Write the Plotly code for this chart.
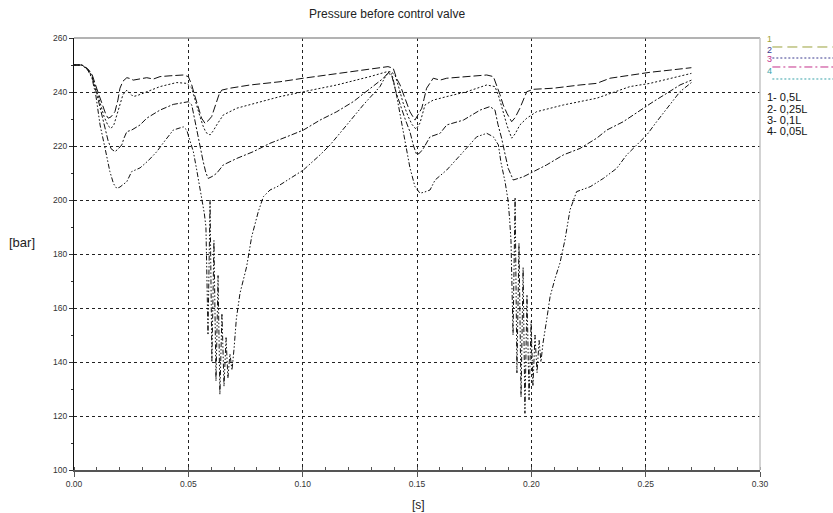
import plotly.graph_objects as go

# Time in milliseconds, pressure in bar, for each accumulator volume
t_05 = [0, 3.5, 6.1, 7.9, 9.9, 11.4, 12.8, 14.0, 15.0, 16.2, 17.9, 19.2, 20.1, 21.4, 23.1,
        24.5, 25.9, 28.9, 31.8, 34.7, 37.6, 42.0, 47.8, 50.0, 51.5, 52.5, 53.7, 54.7, 55.8,
        57.3, 58.6, 60.2, 61.2, 62.4, 63.4, 64.6, 68.2, 77.0, 90.1, 100.3, 114.9, 129.4,
        135.3, 137.3, 139.6, 141.1, 142.6, 144.8, 146.9, 149.1, 150.4, 152.1, 153.1, 154.2,
        157.1, 160.1, 163.0, 170.3, 180.5, 183.4, 184.9, 186.3, 187.7, 189.4, 191.4, 192.9,
        195.0, 196.4, 198.0, 200.9, 209.6, 221.3, 228.6, 234.4, 243.1, 251.9, 260.6, 270.0]
p_05 = [250, 250, 248.5, 246.5, 241.4, 237.5, 234, 231.5, 230.3, 230.8, 232.7, 237, 241.4,
        244, 245.3, 245, 244.4, 244.8, 245.3, 244.8, 245.7, 246, 246.3, 245.7, 242.6, 239.5,
        236.4, 233, 230.3, 228.4, 229.3, 230.9, 233.5, 236.4, 239, 240.7, 241.4, 242.6, 243.8,
        245.1, 246.9, 248.5, 249.4, 249.4, 248.8, 245, 242.6, 237.5, 232.7, 229.6, 231.5, 234,
        237.5, 241.4, 245.1, 244.4, 245.1, 245.7, 246.3, 245.7, 242.6, 239, 235.2, 232, 229,
        230.5, 234, 237, 240.1, 241, 241.4, 242.6, 243.2, 245.1, 246.3, 247.3, 248.1, 249]

t_025 = [0, 3.5, 6.1, 7.9, 9.9, 11.4, 13.1, 14.9, 16.2, 17.5, 18.8, 20.1, 21.4, 23.1, 24.5,
         25.9, 28.0, 30.3, 33.2, 37.6, 44.9, 49.3, 51.5, 52.9, 54.7, 56.4, 57.7, 59.5, 60.8,
         62.4, 63.9, 65.3, 71.2, 81.3, 90.1, 100.3, 114.9, 129.4, 136.8, 138.6, 140.4, 142.1,
         143.9, 146.1, 147.8, 149.6, 151.3, 153.5, 157.1, 163.0, 171.7, 180.5, 184.1, 185.9,
         187.7, 189.4, 191.4, 192.9, 195.0, 198.0, 202.3, 214.0, 228.6, 234.4, 243.1, 251.9,
         260.6, 270.0]
p_025 = [250, 250, 248.5, 246, 240.5, 236, 231, 227.5, 226.5, 228, 232, 236, 239, 240.7,
         239.5, 238.3, 238.8, 239.5, 240.5, 242, 243.5, 243.2, 241.4, 237, 232, 227.5, 225,
         224.1, 225.5, 227.8, 230, 231.5, 234, 236.4, 238.3, 240.1, 242.6, 245.7, 247.5, 247.5,
         246.3, 241.5, 236, 231, 228, 226.2, 228.5, 235.2, 237, 238.3, 240.1, 242.6, 242, 238,
         232.7, 227.5, 222.9, 224.5, 227.8, 230.3, 232.7, 235.2, 237.7, 239.5, 242, 243.2,
         245.1, 246.9]

t_01 = [0, 3.5, 6.1, 7.9, 9.9, 11.4, 13.1, 14.9, 16.2, 17.9, 19.2, 20.9, 21.9, 23.1, 25.2,
        28.9, 31.8, 37.6, 43.4, 50.0, 51.5, 52.5, 53.7, 55.1, 56.5, 57.7, 58.7, 60.4, 62.4,
        65.3, 71.2, 78.4, 85.7, 93.0, 100.3, 107.6, 114.9, 122.1, 129.4, 135.3, 137.3, 138.9,
        140.8, 142.6, 144.8, 146.9, 148.5, 149.9, 151.3, 152.8, 154.4, 155.7, 160.1, 163.0,
        170.3, 177.6, 181.9, 184.1, 185.4, 187.0, 188.5, 189.9, 192.1, 194.2, 196.5, 200.9,
        206.7, 214.0, 221.3, 228.6, 233.0, 240.2, 247.5, 253.3, 259.2, 265.0, 270.0]
p_01 = [250, 250, 248.3, 245.5, 239.5, 234, 227.5, 222, 219, 217.9, 218.8, 220.4, 223, 225.3,
        225.9, 227.8, 230.3, 233.3, 235.4, 236.4, 235.2, 231, 225.3, 219.5, 214.2, 210, 208,
        208.7, 209.9, 213, 215.4, 217.9, 221, 223.4, 225.9, 229.6, 232.7, 236.4, 241.4, 245.1,
        247, 246.3, 240, 235.2, 230, 225.3, 220, 216.7, 217.5, 219.1, 221.5, 223.4, 224.7,
        227.8, 229.6, 233.3, 234.6, 233.3, 228, 222.9, 217, 211.7, 207.4, 207.9, 208.6, 210.5,
        213, 216.7, 219.1, 222.9, 225.9, 229, 233.3, 236.4, 239.5, 242.6, 244.4]

t_005 = [0, 3.5, 6.1, 7.9, 9.6, 11.4, 13.6, 15.7, 17.3, 18.7, 20.1, 21.6, 23.1, 25.2, 28.9,
         32.4, 36.2, 39.8, 43.4, 47.8, 49.3, 50.7, 52.2, 53.7, 55.1, 56.4, 57.0,
         57.7, 58.6, 59.5, 60.3, 61.2, 62.1, 63.0, 63.8, 64.7, 65.6, 66.5, 67.3, 68.2, 69.1,
         70.0, 71.0, 72.6, 75.5, 77.7, 80.6, 82.8, 85.7, 88.8, 94.6, 100.3, 107.6, 112.0, 119.3,
         126.5, 133.8, 136.4, 137.8, 139.1, 140.8, 142.6, 144.8, 146.9, 149.1, 151.3, 153.5,
         155.7, 157.9, 163.0, 170.3, 176.1, 180.5, 183.4, 185.6, 186.7, 188.5, 189.8, 190.5,
         191.1, 192.0, 192.9, 193.7, 194.6, 195.5, 196.4, 197.2, 198.1, 199.0, 199.9, 200.7,
         201.6, 202.5, 203.4, 204.2, 205.1,
         206.7, 208.2, 210.4, 212.5, 214.7, 216.9, 219.8, 225.7, 231.5, 237.3, 241.7,
         246.1, 250.5, 254.8, 260.6, 265.0, 270.0]
p_005 = [250, 250, 248, 245, 238.5, 227.8, 219.1, 210.5, 206, 204.3, 204.8, 205.8, 206.8,
         210.5, 211.9, 214.5, 217.9, 222, 225.9, 227.1, 225.9, 222, 217.9, 211, 204.4, 198, 195,
         190, 150, 200, 140, 185, 133, 172, 128, 158, 131, 149, 134, 143, 137,
         145, 156, 165.5, 175.3, 186.4, 195.7, 201.2, 203.7, 204.9, 208, 211.1, 216.7, 220.4,
         227.8, 235.2, 242, 246, 247.5, 246.5, 240, 232, 221, 212, 205, 202.5, 203, 203.7, 207.4,
         211.1, 217.9, 223.4, 224.7, 223.4, 220.4, 214, 206.8, 200, 193,
         185, 150, 201, 136, 184, 127, 175, 121, 165, 126, 155, 131, 150, 136, 148, 140, 147,
         155.6, 164.2, 171, 176.6, 185.2, 196.3, 203.1, 204.9, 208, 211.7, 216.7, 220.4,
         224.1, 229, 235.2, 240.1, 243.5]

series_names = ["1- 0,5L", "2- 0,25L", "3- 0,1L", "4- 0,05L"]
key_labels = ["1", "2", "3", "4"]
key_colors = ["#9aa13c", "#3b3b8f", "#c4308a", "#3aa3aa"]
curve_dashes = ["8px,3px", "2px,2px", "6px,2px,2px,2px", "5px,2px,1.5px,2px,1.5px,2px"]

x_ticks = [0.00, 0.05, 0.10, 0.15, 0.20, 0.25, 0.30]
y_ticks = [100, 120, 140, 160, 180, 200, 220, 240, 260]

FONT = "Liberation Sans, Arial, sans-serif"

fig = go.Figure()
for ts, ps, name, dash in zip([t_05, t_025, t_01, t_005], [p_05, p_025, p_01, p_005],
                              series_names, curve_dashes):
    fig.add_trace(go.Scatter(
        x=[v / 1000 for v in ts], y=ps, mode="lines", name=name,
        line=dict(color="#111111", width=1, dash=dash), showlegend=False,
        hoverinfo="skip"))

fig.update_layout(
    width=833, height=513,
    margin=dict(l=74, r=73, t=38, b=43),
    paper_bgcolor="white", plot_bgcolor="white",
    font=dict(family=FONT, color="#222"),
)

fig.update_xaxes(
    range=[0, 0.30], tickvals=x_ticks, ticktext=[f"{v:.2f}" for v in x_ticks],
    showgrid=True, gridcolor="#222", griddash="dot", gridwidth=1,
    showline=True, linecolor="#555", linewidth=1.5,
    ticks="outside", ticklen=5, tickcolor="#555",
    minor=dict(dtick=0.01, ticks="inside", ticklen=3, tickcolor="#555", showgrid=False),
    zeroline=False, tickfont=dict(size=8.5, color="#333", family=FONT),
)
fig.update_yaxes(
    range=[100, 260], tickvals=y_ticks,
    showgrid=True, gridcolor="#222", griddash="dot", gridwidth=1,
    showline=True, linecolor="#111", linewidth=1,
    ticks="outside", ticklen=4, tickcolor="#333",
    minor=dict(dtick=10, ticks="outside", ticklen=2, tickcolor="#333", showgrid=False),
    zeroline=False, tickfont=dict(size=8.5, color="#333", family=FONT),
)

# Plot frame: light top and right edges
fig.add_shape(type="line", xref="paper", yref="paper", x0=0, x1=1, y0=1, y1=1,
              line=dict(color="#9a9a9a", width=1.5), layer="above")
fig.add_shape(type="line", xref="paper", yref="paper", x0=1, x1=1, y0=0, y1=1,
              line=dict(color="#c4c4c4", width=1.5), layer="above")

# Title and axis labels
fig.add_annotation(text="Pressure before control valve", xref="paper", yref="paper",
                   x=0.456, y=1.0556, showarrow=False, xanchor="center", yanchor="middle",
                   font=dict(size=12, color="#222", family=FONT))
fig.add_annotation(text="[bar]", xref="paper", yref="paper", x=-0.0758, y=0.5255,
                   showarrow=False, xanchor="center", yanchor="middle",
                   font=dict(size=13, color="#222", family=FONT))
fig.add_annotation(text="[s]", xref="paper", yref="paper", x=0.5015, y=-0.081,
                   showarrow=False, xanchor="center", yanchor="middle",
                   font=dict(size=12, color="#222", family=FONT))

# Colour key beside the plot
key_num_y = [0.9815, 0.9560, 0.9352, 0.9074]
key_line_y = [0.9792, 0.9537, 0.9329, 0.9051]
key_line_dash = ["10px,5px", "2px,2px", "8px,3px,2px,3px", "2px,2px"]
for lab, col, ny, ly, ld in zip(key_labels, key_colors, key_num_y, key_line_y, key_line_dash):
    fig.add_annotation(text=lab, xref="paper", yref="paper", x=1.0075, y=ny,
                       showarrow=False, xanchor="left", yanchor="bottom",
                       font=dict(size=9, color=col, family=FONT))
    fig.add_shape(type="line", xref="paper", yref="paper", x0=1.018, x1=1.13, y0=ly, y1=ly,
                  line=dict(color=col, width=1, dash=ld))

name_y = [0.8634, 0.8368, 0.8102, 0.7836]
for nm, ny in zip(series_names, name_y):
    fig.add_annotation(text=nm, xref="paper", yref="paper", x=1.0073, y=ny,
                       showarrow=False, xanchor="left", yanchor="middle",
                       font=dict(size=11, color="#111", family=FONT))

fig.write_html("out.html")
